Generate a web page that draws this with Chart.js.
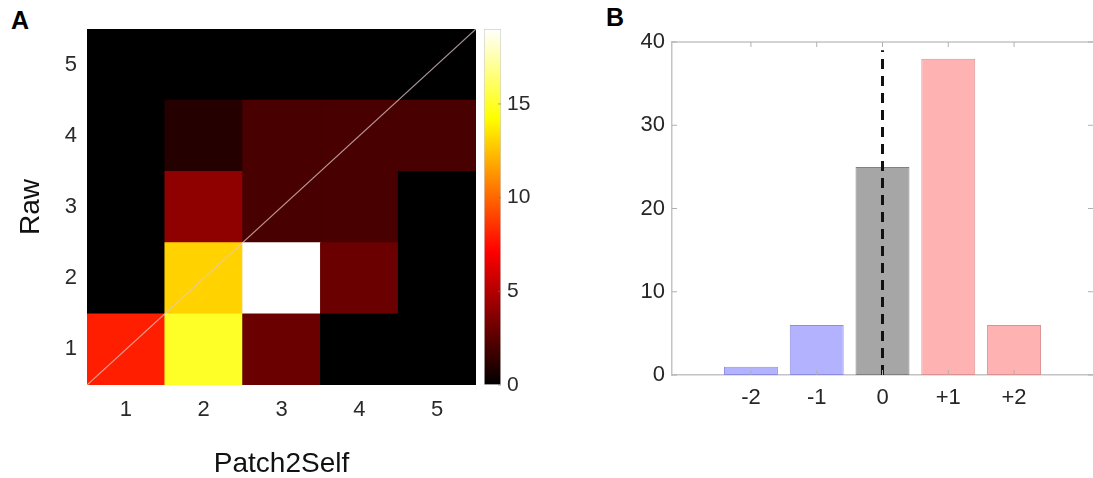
<!DOCTYPE html>
<html>
<head>
<meta charset="utf-8">
<script src="https://cdn.jsdelivr.net/npm/chart.js@4.4.1/dist/chart.umd.min.js"></script>
<style>
  html, body { margin: 0; padding: 0; background: #fff; }
  body { width: 1093px; height: 478px; position: relative; overflow: hidden; font-family: "Liberation Sans", Arial, Helvetica, sans-serif; }
  canvas { position: absolute; top: 0; }
  .panel { position: absolute; font-weight: bold; font-size: 25px; color: #000; }
</style>
</head>
<body>
<div class="panel" style="left:11px; top:6px;">A</div>
<div class="panel" style="left:606px; top:3px;">B</div>
<canvas id="heat" width="480" height="478" style="left:0px;"></canvas>
<canvas id="cbar" width="64" height="478" style="left:476px;"></canvas>
<canvas id="bars" width="493" height="478" style="left:600px;"></canvas>
<script>
// ---------- Panel A data ----------
const heatColLabels = ['1', '2', '3', '4', '5'];
const heatRowLabels = ['1', '2', '3', '4', '5'];
// rows from Raw=1 (bottom) to Raw=5 (top); columns Patch2Self 1..5
const heatRow1 = [8, 15, 3, 0, 0];
const heatRow2 = [0, 13, 19, 3, 0];
const heatRow3 = [0, 4, 2, 2, 0];
const heatRow4 = [0, 1, 2, 2, 2];
const heatRow5 = [0, 0, 0, 0, 0];
const heatRows = [heatRow1, heatRow2, heatRow3, heatRow4, heatRow5];
const colorMin = 0;
const colorMax = 19;
const colorbarTicks = [0, 5, 10, 15];
const diagonal = [0.5, 5.5];

// ---------- Panel B data ----------
const diffCategories = [-2, -1, 0, 1, 2];
const diffTickLabels = ['-2', '-1', '0', '+1', '+2'];
const diffCounts = [1, 6, 25, 38, 6];
const zeroLine = [0, 39];

const FONT = '"Liberation Sans", Arial, Helvetica, sans-serif';

function hot(v) {
  const t = Math.max(0, Math.min(1, (v - colorMin) / (colorMax - colorMin)));
  const r = Math.min(1, t / 0.375);
  const g = Math.max(0, Math.min(1, (t - 0.375) / 0.375));
  const b = Math.max(0, Math.min(1, (t - 0.75) / 0.25));
  return `rgb(${Math.round(r * 255)},${Math.round(g * 255)},${Math.round(b * 255)})`;
}

const blackArea = {
  id: 'blackArea',
  beforeDatasetsDraw(chart) {
    const { ctx, chartArea: a } = chart;
    ctx.save();
    ctx.fillStyle = '#000';
    ctx.fillRect(a.left, a.top, a.right - a.left, a.bottom - a.top);
    ctx.restore();
  }
};

// ---------- Heatmap ----------
const heatDatasets = heatRows.map((row, ri) => ({
  type: 'bar',
  data: row.map((v, ci) => ({ x: ci + 1, y: [ri + 0.5, ri + 1.5] })),
  backgroundColor: row.map(v => hot(v)),
  borderWidth: 0,
  grouped: false,
  barPercentage: 1,
  categoryPercentage: 1,
  order: 2
}));
heatDatasets.unshift({
  type: 'line',
  data: [{ x: diagonal[0], y: diagonal[0] }, { x: diagonal[1], y: diagonal[1] }],
  borderColor: 'rgba(225,200,200,0.75)',
  borderWidth: 1.2,
  pointRadius: 0,
  order: 1
});

new Chart(document.getElementById('heat'), {
  type: 'bar',
  data: { datasets: heatDatasets },
  options: {
    responsive: false,
    animation: false,
    layout: { padding: { top: 29, right: 4, left: 0, bottom: 0 } },
    plugins: { legend: { display: false }, tooltip: { enabled: false } },
    scales: {
      x: {
        type: 'linear', min: 0.5, max: 5.5, offset: false,
        grid: { display: false, drawTicks: false },
        border: { display: false },
        afterBuildTicks: s => { s.ticks = heatColLabels.map((l, i) => ({ value: i + 1 })); },
        afterFit: s => { s.height = 93; },
        ticks: { padding: 12, color: '#2a2a2a', font: { family: FONT, size: 22 },
                 callback: (v) => heatColLabels[v - 1] },
        title: { display: true, text: 'Patch2Self', color: '#111', font: { family: FONT, size: 28, lineHeight: 1 }, padding: { top: 0, bottom: 0 } }
      },
      y: {
        type: 'linear', min: 0.5, max: 5.5,
        grid: { display: false, drawTicks: false },
        border: { display: false },
        afterBuildTicks: s => { s.ticks = heatRowLabels.map((l, i) => ({ value: i + 1 })); },
        afterFit: s => { s.width = 87; },
        ticks: { padding: 10, color: '#2a2a2a', font: { family: FONT, size: 22 },
                 callback: (v) => heatRowLabels[v - 1] },
        title: { display: true, text: 'Raw', color: '#111', font: { family: FONT, size: 28, lineHeight: 1 }, padding: { top: 17, bottom: 0 } }
      }
    }
  },
  plugins: [blackArea]
});

// ---------- Colorbar ----------
const cbarTicks = {
  id: 'cbarTicks',
  afterDraw(chart) {
    const { ctx, chartArea: a, scales: { y } } = chart;
    ctx.save();
    ctx.strokeStyle = 'rgba(120,120,120,0.6)';
    ctx.lineWidth = 1;
    ctx.beginPath();
    y.ticks.forEach(t => {
      const py = y.getPixelForValue(t.value);
      ctx.moveTo(a.right, py); ctx.lineTo(a.right - 3, py);
    });
    ctx.stroke();
    ctx.restore();
  }
};

new Chart(document.getElementById('cbar'), {
  type: 'bar',
  data: {
    labels: [''],
    datasets: [{
      data: [[colorMin, colorMax]],
      backgroundColor: (c) => {
        const chart = c.chart;
        if (!chart.chartArea) return '#000';
        const y = chart.scales.y;
        const g = chart.ctx.createLinearGradient(0, y.getPixelForValue(colorMin), 0, y.getPixelForValue(colorMax));
        g.addColorStop(0, 'rgb(0,0,0)');
        g.addColorStop(0.375, 'rgb(255,0,0)');
        g.addColorStop(0.75, 'rgb(255,255,0)');
        g.addColorStop(1, 'rgb(255,255,255)');
        return g;
      },
      borderColor: '#cfcfcf',
      borderWidth: 1,
      borderSkipped: false,
      barPercentage: 1,
      categoryPercentage: 1
    }]
  },
  options: {
    responsive: false,
    animation: false,
    layout: { padding: { top: 29, left: 8, right: 0, bottom: 93 } },
    plugins: { legend: { display: false }, tooltip: { enabled: false } },
    scales: {
      x: { display: false },
      y: {
        position: 'right', min: colorMin, max: colorMax,
        grid: { display: false, drawTicks: false },
        border: { display: false },
        afterBuildTicks: s => { s.ticks = colorbarTicks.map(v => ({ value: v })); },
        afterFit: s => { s.width = 39; },
        ticks: { padding: 6, color: '#2a2a2a', font: { family: FONT, size: 21 } }
      }
    }
  },
  plugins: [cbarTicks]
});

// ---------- Bar chart ----------
const frameTicks = {
  id: 'frameTicks',
  afterDraw(chart) {
    const { ctx, chartArea: a, scales: { x, y } } = chart;
    ctx.save();
    ctx.strokeStyle = '#c4c4c4';
    ctx.lineWidth = 1.5;
    ctx.beginPath();
    ctx.moveTo(a.left, a.top); ctx.lineTo(a.right, a.top);
    ctx.stroke();
    ctx.lineWidth = 1;
    ctx.strokeStyle = '#b0b0b0';
    ctx.beginPath();
    x.ticks.forEach(t => {
      const px = x.getPixelForValue(t.value);
      ctx.moveTo(px, a.bottom); ctx.lineTo(px, a.bottom - 5);
      ctx.moveTo(px, a.top); ctx.lineTo(px, a.top + 5);
    });
    y.ticks.forEach(t => {
      const py = y.getPixelForValue(t.value);
      ctx.moveTo(a.left, py); ctx.lineTo(a.left + 5, py);
      ctx.moveTo(a.right, py); ctx.lineTo(a.right - 5, py);
    });
    ctx.stroke();
    ctx.restore();
  }
};

new Chart(document.getElementById('bars'), {
  type: 'bar',
  data: {
    datasets: [
      {
        type: 'line',
        data: [{ x: 0, y: zeroLine[0] }, { x: 0, y: zeroLine[1] }],
        borderColor: '#111',
        borderWidth: 3,
        borderDash: [10, 7],
        pointRadius: 0,
        order: 1
      },
      {
        type: 'bar',
        data: diffCategories.map((c, i) => ({ x: c, y: diffCounts[i] })),
        backgroundColor: ['rgb(178,178,255)', 'rgb(178,178,255)', 'rgb(166,166,166)', 'rgb(255,178,178)', 'rgb(255,178,178)'],
        borderColor: ['rgb(140,140,225)', 'rgb(140,140,225)', 'rgb(128,128,128)', 'rgb(220,145,145)', 'rgb(220,145,145)'],
        borderWidth: 1,
        borderSkipped: false,
        barPercentage: 0.82,
        categoryPercentage: 1,
        order: 2
      }
    ]
  },
  options: {
    responsive: false,
    animation: false,
    layout: { padding: { top: 42, right: 0, left: 0, bottom: 0 } },
    plugins: { legend: { display: false }, tooltip: { enabled: false } },
    scales: {
      x: {
        type: 'linear', min: -3.2, max: 3.2, offset: false,
        grid: { display: false, drawTicks: false },
        border: { display: true, color: '#c4c4c4', width: 1.5 },
        afterBuildTicks: s => { s.ticks = diffCategories.map(v => ({ value: v })); },
        afterFit: s => { s.height = 103; },
        ticks: { padding: 10, color: '#262626', font: { family: FONT, size: 22 },
                 callback: (v) => diffTickLabels[diffCategories.indexOf(v)] }
      },
      y: {
        min: 0, max: 40,
        grid: { display: false, drawTicks: false },
        border: { display: true, color: '#c4c4c4', width: 1.5 },
        afterFit: s => { s.width = 72; },
        ticks: { stepSize: 10, padding: 7, color: '#262626', font: { family: FONT, size: 22 } }
      }
    }
  },
  plugins: [frameTicks]
});
</script>
</body>
</html>
